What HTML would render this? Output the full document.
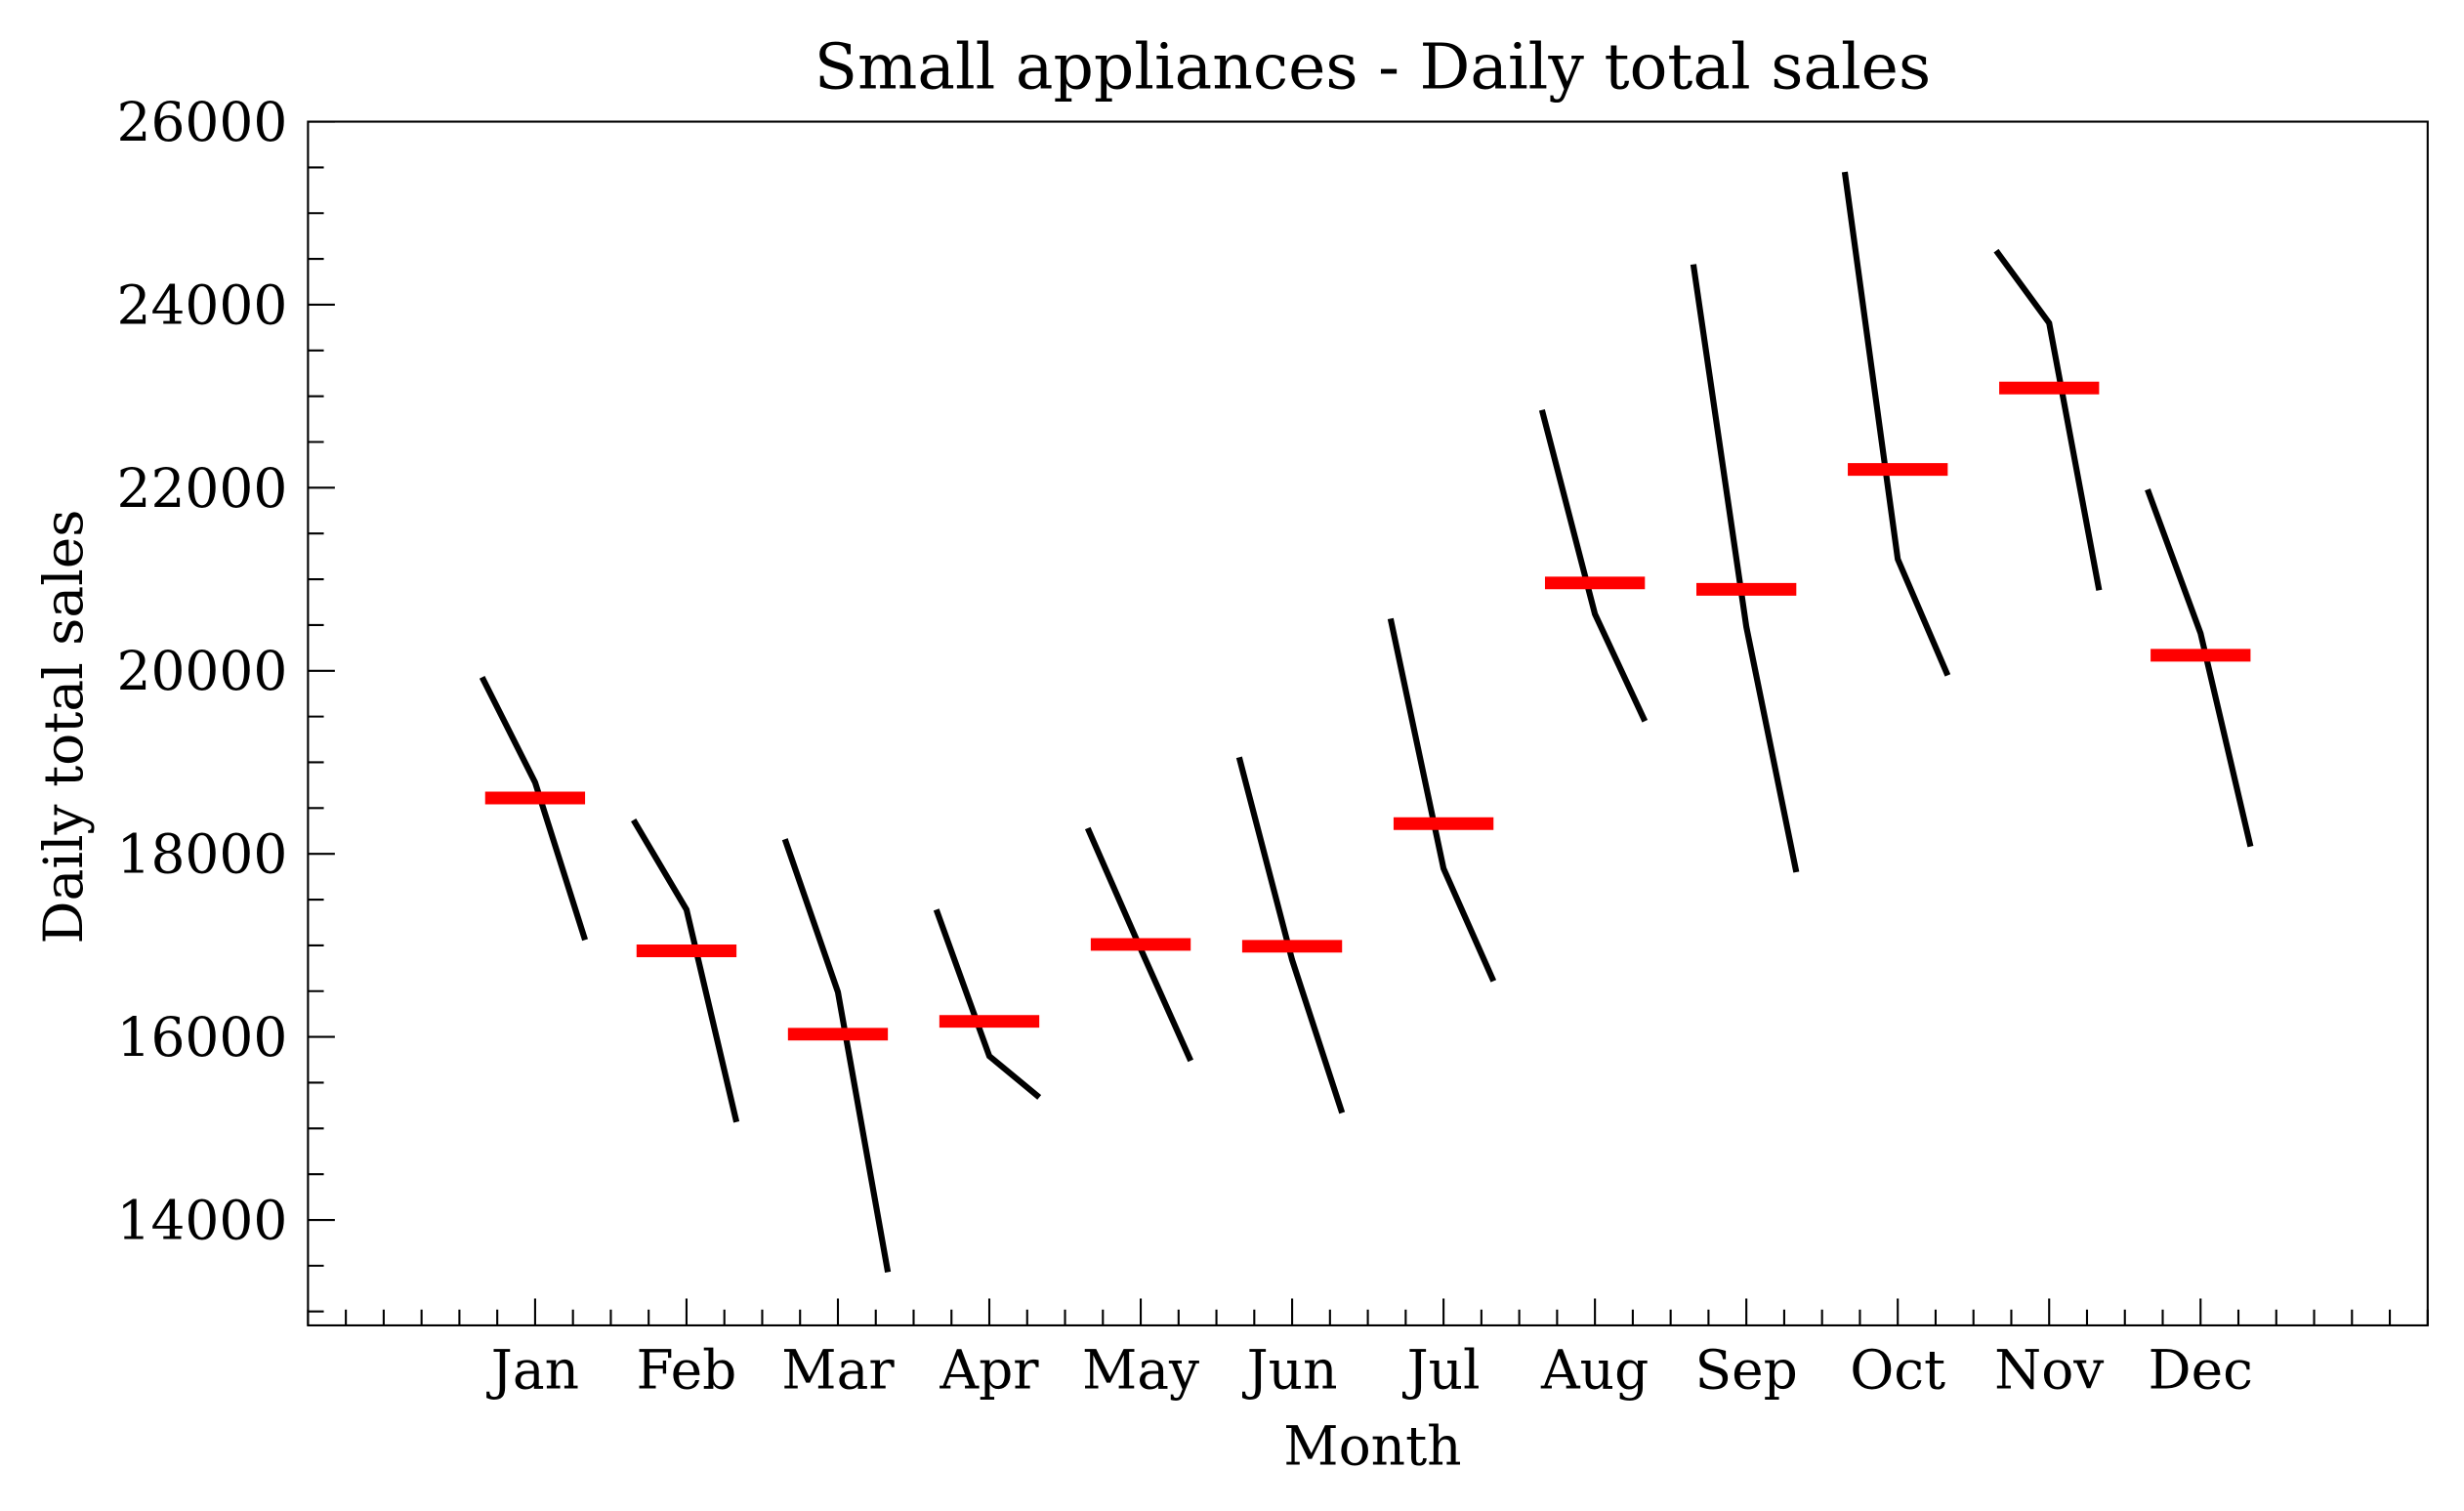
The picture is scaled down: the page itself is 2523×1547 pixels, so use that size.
<!DOCTYPE html>
<html><head><meta charset="utf-8"><style>
html,body{margin:0;padding:0;background:#fff;}
svg{display:block;}
text{font-family:"DejaVu Serif","Liberation Serif",serif;fill:#000;}
</style></head><body>
<svg id="chart" width="2523" height="1547" viewBox="0 0 1560 956.5" preserveAspectRatio="none" xmlns="http://www.w3.org/2000/svg">
<rect width="1560" height="956.5" fill="#fff"/>
<text x="869" y="56" font-size="40" text-anchor="middle">Small appliances - Daily total sales</text>
<text x="869" y="927" font-size="34" text-anchor="middle">Month</text>
<text transform="translate(52,460) rotate(-90)" font-size="34" text-anchor="middle">Daily total sales</text>
<g id="ticks"></g>
<g id="marks"></g>
<rect id="frame" fill="none" stroke="#000" stroke-width="1.3"/>
</svg>
<script>
const months = ["Jan","Feb","Mar","Apr","May","Jun","Jul","Aug","Sep","Oct","Nov","Dec"];
const firstYear = [19930,18370,18160,17390,18280,19055,20570,22850,24440,25450,24590,21980];
const midYear = [18780,17390,16490,15790,16960,16840,17840,20620,20480,21220,23800,20410];
const lastYear = [17060,15070,13430,15340,15740,15170,16610,19450,17800,19950,20880,18080];
const monthMeans = [18610,16940,16030,16170,17010,16990,18330,20960,20890,22200,23090,20170];
const yTicks = [14000,16000,18000,20000,22000,24000,26000];

const L=195,R=1537,T=77,B=839;
const x0=-0.5,x1=13.5,y0=12848,y1=26000;
const X=v=>L+(v-x0)/(x1-x0)*(R-L);
const Y=v=>B-(v-y0)/(y1-y0)*(B-T);
const NS="http://www.w3.org/2000/svg";
const ticks=document.getElementById('ticks');
const marks=document.getElementById('marks');
const fr=document.getElementById('frame');
fr.setAttribute('x',L);fr.setAttribute('y',T);fr.setAttribute('width',R-L);fr.setAttribute('height',B-T);
function mk(tag,attrs,parent){const e=document.createElementNS(NS,tag);for(const k in attrs)e.setAttribute(k,attrs[k]);parent.appendChild(e);return e;}

for(let v=13000; v<=26000; v+=500){
  const major = v%2000===0;
  const t=mk('line',{x1:L,x2:L+(major?17:10),y1:Y(v),y2:Y(v),stroke:'#000','stroke-width':1.3},ticks);
  
  
}
yTicks.forEach(v=>{
  const t=mk('text',{x:L-13,y:Y(v)+12,'font-size':34,'text-anchor':'end'},ticks);
  t.textContent=v;
  
  
});
for(let i=0;i<=56;i++){
  const v=x0+i*0.25;
  const major = Math.abs(v-Math.round(v))<1e-9 && v>=1 && v<=12;
  const t=mk('line',{x1:X(v),x2:X(v),y1:B,y2:B-(major?17:10),stroke:'#000','stroke-width':1.3},ticks);
  
  
}
months.forEach((m,i)=>{
  const t=mk('text',{x:X(i+1),y:B+40,'font-size':34,'text-anchor':'middle'},ticks);
  t.textContent=m;
  
  
});
months.forEach((m,i)=>{
  const c=i+1;
  const pts=[[c-0.35,firstYear[i]],[c,midYear[i]],[c+0.33,lastYear[i]]];
  const p=mk('polyline',{points:pts.map(q=>X(q[0])+','+Y(q[1])).join(' '),fill:'none',stroke:'#000','stroke-width':3.8},marks);
  
  
  const r=mk('line',{x1:X(c-0.33),x2:X(c+0.33),y1:Y(monthMeans[i]),y2:Y(monthMeans[i]),stroke:'#ff0000','stroke-width':8},marks);
  
  
});
</script>
</body></html>
